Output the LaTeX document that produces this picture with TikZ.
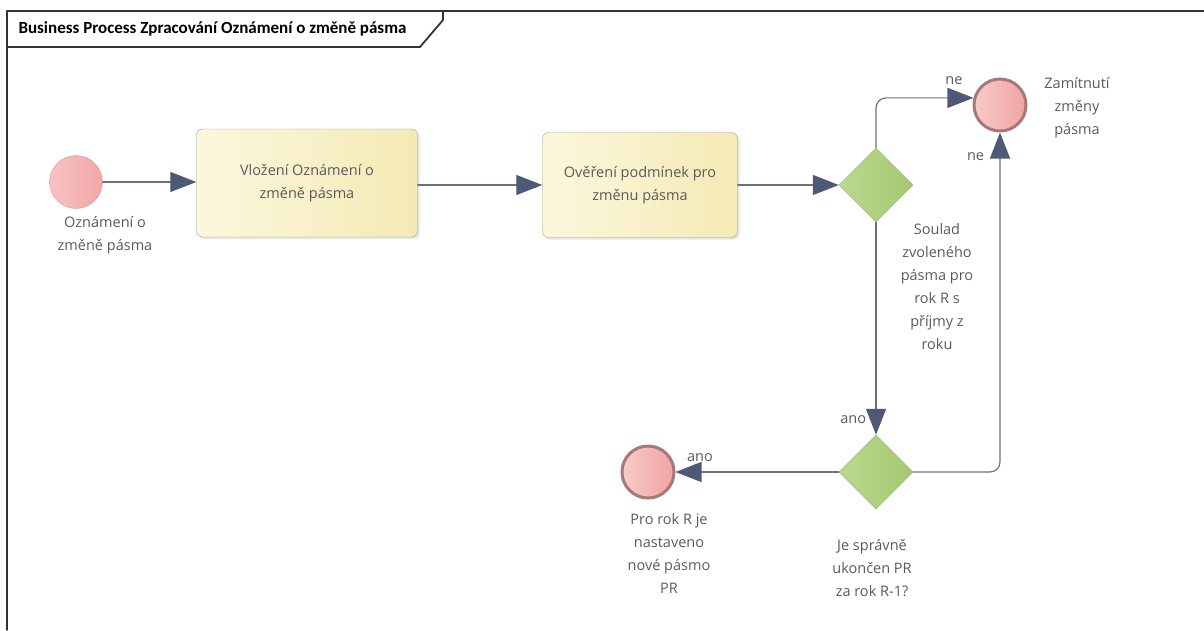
\documentclass[tikz,border=0pt]{standalone}
\usepackage{fontspec}
\setmainfont{Open Sans}
\newfontfamily\titlefont{Carlito}
\usetikzlibrary{arrows.meta,shapes.geometric,shadows}
\definecolor{txtgray}{HTML}{5A5A5A}
\definecolor{linegray}{HTML}{6E7278}
\definecolor{arrowblue}{HTML}{4E5A75}
\definecolor{taskA}{HTML}{FCF7DD}
\definecolor{taskB}{HTML}{F4EAB4}
\definecolor{taskline}{HTML}{A89F80}
\definecolor{gwA}{HTML}{BBD98F}
\definecolor{gwB}{HTML}{A5C870}
\definecolor{gwline}{HTML}{93AD72}
\definecolor{evA}{HTML}{F9CACA}
\definecolor{evB}{HTML}{F0A3A3}
\definecolor{evline}{HTML}{A87878}
\definecolor{stline}{HTML}{D29C9C}
\begin{document}
\begin{tikzpicture}[x=1pt, y=-1pt, line join=round, line cap=round,
	>={Triangle[length=26pt,width=20pt,color=arrowblue]},
	every node/.style={font=\fontsize{14.5}{23}\selectfont, text=txtgray},
	task/.style={draw=taskline, rounded corners=6pt, left color=taskA, right color=taskB,
		align=center, inner sep=0pt, drop shadow={opacity=0.2, shadow xshift=2pt, shadow yshift=-2pt}},
	gateway/.style={diamond, aspect=1, draw=gwline, left color=gwA, right color=gwB,
		minimum width=74pt, minimum height=74pt, inner sep=0pt},
	startev/.style={circle, draw=stline, left color=evA!80!evB, right color=evB!90!evA, minimum size=53pt, inner sep=0pt},
	endev/.style={circle, draw=evline, line width=3pt, left color=evA, right color=evB,
		minimum size=52pt, inner sep=0pt},
	lbl/.style={align=center},
	flow/.style={draw=linegray, line width=1.2pt, ->, rounded corners=10pt},
	frame/.style={draw=black!80, line width=1.8pt}]
	\useasboundingbox (0,0) rectangle (1204,630);
	% frame and title tab
	\draw[frame] (1204,11) -- (7,11) -- (7,630);
	\draw[frame] (7,47) -- (420,47) -- (443,20) -- (443,11);
	\node[anchor=west, font=\titlefont\bfseries\fontsize{17}{19}\selectfont, text=black] (title) at (15,29)
	{Business Process Zpracování Oznámení o změně pásma};
	% events, tasks, gateways
	\node[startev] (start) at (76,182) {};
	\node[task, minimum width=221pt, minimum height=108pt] (vlozeni) at (307,183) {Vložení Oznámení o\\změně pásma};
	\node[task, minimum width=195pt, minimum height=105pt] (overeni) at (640,185) {Ověření podmínek pro\\změnu pásma};
	\node[gateway] (soulad) at (876,185) {};
	\node[gateway] (ukonceni) at (876,472) {};
	\node[endev] (zamitnuti) at (1000,105) {};
	\node[endev] (nastaveno) at (648,472) {};
	% texts
	\node[lbl] (startlbl) at (105,235) {Oznámení o\\změně pásma};
	\node[lbl] (zamitlbl) at (1077,108) {Zamítnutí\\změny\\pásma};
	\node[lbl] (souladlbl) at (937,287) {Soulad\\zvoleného\\pásma pro\\rok R s\\příjmy z\\roku};
	\node[lbl] (ukonclbl) at (872,568) {Je správně\\ukončen PR\\za rok R-1?};
	\node[lbl] (nastlbl) at (669,553) {Pro rok R je\\nastaveno\\nové pásmo\\PR};
	% flows
	\draw[flow] (soulad.north) |- (zamitnuti.165) node[pos=0.9, above=9pt] (ne1) {ne};
	\draw[flow] (start) -- (vlozeni.west |- start);
	\draw[flow] (vlozeni.east |- overeni) -- (overeni);
	\draw[flow] (overeni) -- (soulad);
	\draw[flow] (soulad.south) -- (ukonceni.north) node[pos=0.93, left=6pt] (ano1) {ano};
	\draw[flow] (ukonceni.east) -| (zamitnuti.south) node[pos=0.965, left=12pt] (ne2) {ne};
	\draw[flow] (ukonceni.west) -- (nastaveno.east) node[pos=0.85, above=6pt] (ano2) {ano};
\end{tikzpicture}
\end{document}
